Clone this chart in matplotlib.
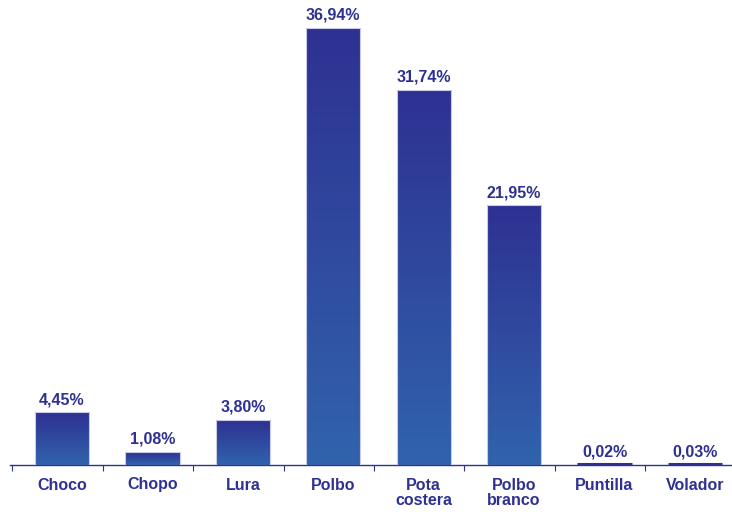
import matplotlib.pyplot as plt
import numpy as np
from matplotlib.colors import LinearSegmentedColormap

categories = ['Choco', 'Chopo', 'Lura', 'Polbo', 'Pota\ncostera', 'Polbo\nbranco', 'Puntilla', 'Volador']
values = [4.45, 1.08, 3.80, 36.94, 31.74, 21.95, 0.02, 0.03]
value_labels = ['4,45%', '1,08%', '3,80%', '36,94%', '31,74%', '21,95%', '0,02%', '0,03%']

navy = '#2E3192'
light = '#3163AD'
cmap = LinearSegmentedColormap.from_list('bar_grad', [light, navy])

plt.rcParams['font.family'] = ['Liberation Sans', 'DejaVu Sans']

fig = plt.figure(figsize=(7.32, 5.12), dpi=100)
ax = fig.add_axes([10 / 732, 47 / 512, 722 / 732, 465 / 512])

x = np.arange(len(categories))
bar_w = 0.6
grad = np.linspace(0, 1, 256).reshape(-1, 1)

for xi, v, lab in zip(x, values, value_labels):
    bar = ax.bar(xi, v, width=bar_w, facecolor='none', edgecolor='#C8CAE6',
                 linewidth=0.8, zorder=3)[0]
    im = ax.imshow(grad, cmap=cmap, origin='lower', aspect='auto', interpolation='bilinear',
                   extent=[xi - bar_w / 2, xi + bar_w / 2, 0, v], zorder=2)
    im.set_clip_path(bar)
    if v < 0.5:
        # very small shares: draw a visible thin line like the reference
        ax.plot([xi - bar_w / 2, xi + bar_w / 2], [0.12, 0.12], color=navy,
                linewidth=2.2, solid_capstyle='butt', zorder=4)
    ax.text(xi, v + 0.45, lab, ha='center', va='bottom', fontsize=11.5,
            fontweight='bold', color=navy)

ax.set_xlim(-0.575, 7.41)
ax.set_ylim(0, 36.94 * 465 / 437)

for side in ['top', 'right', 'left']:
    ax.spines[side].set_visible(False)
ax.spines['bottom'].set_color(navy)
ax.spines['bottom'].set_linewidth(1.0)

ax.set_yticks([])
ax.set_xticks(x)
ax.set_xticklabels(categories, fontsize=11.5, fontweight='bold', color=navy,
                   linespacing=1.05)
ax.tick_params(axis='x', which='major', length=0, pad=9)
ax.set_xticks(np.arange(len(categories)) - 0.55, minor=True)
ax.tick_params(axis='x', which='minor', length=4, color=navy, width=0.8)

fig.savefig('out.png', dpi=100)
